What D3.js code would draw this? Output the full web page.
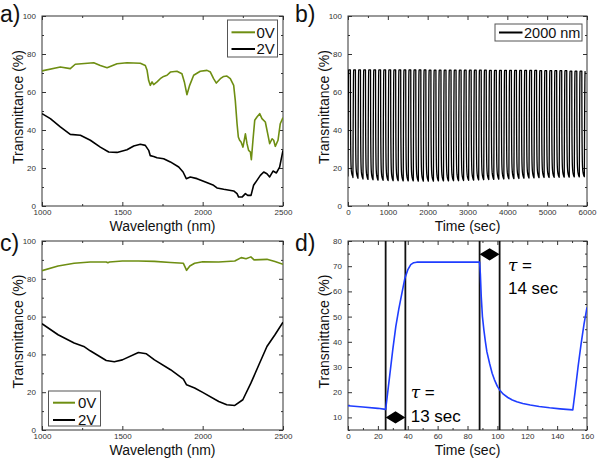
<!DOCTYPE html>
<html><head><meta charset="utf-8">
<script src="https://cdnjs.cloudflare.com/ajax/libs/d3/7.8.5/d3.min.js"></script>
<style>body{margin:0;background:#fff}svg{display:block}</style>
</head><body><svg id="c" width="599" height="462"></svg>
<script>
// ---- Data ----
// Panel a (0V / 2V spectra, wavelength nm vs transmittance %)
const aGreenX = [1000,1114,1176,1207,1322,1363,1405,1467,1529,1612,1643,1654,1664,1674,1685,1695,1716,1736,1757,1778,1799,1840,1871,1886,1902,1919,1944,1985,2027,2048,2068,2085,2110,2131,2151,2172,2193,2203,2214,2222,2230,2239,2251,2266,2276,2286,2297,2303,2313,2324,2338,2355,2369,2390,2405,2417,2432,2442,2452,2469,2483,2500];
const aGreenY = [71.1,73.2,72.3,74.6,75.4,74.0,72.8,74.9,75.4,75.1,74.0,71.4,66.0,63.5,65.3,63.9,65.3,67.0,68.2,68.8,70.5,70.9,69.6,65.3,58.6,63.5,68.8,70.9,71.4,70.5,67.0,64.7,67.0,68.2,68.4,67.0,63.5,55.6,43.3,36.3,34.6,33.7,31.0,38.0,32.8,29.3,28.4,24.4,34.6,45.1,46.8,48.6,46.0,44.2,38.0,32.8,35.4,34.6,31.4,34.6,43.3,46.5];
const aBlackX = [1000,1052,1114,1176,1239,1301,1363,1415,1467,1529,1571,1612,1643,1664,1674,1695,1716,1757,1799,1851,1878,1898,1923,1965,2017,2068,2089,2131,2193,2214,2224,2245,2266,2280,2301,2317,2338,2359,2380,2400,2417,2438,2459,2479,2500];
const aBlackY = [48.6,46.0,41.6,37.7,37.2,34.6,31.0,28.4,28.2,29.6,31.6,32.5,31.9,29.3,26.5,26.1,25.4,24.9,23.2,20.5,17.9,14.4,15.3,14.4,12.6,10.9,9.5,8.8,7.9,6.5,4.7,4.7,6.5,5.6,5.6,10.9,13.5,16.1,17.9,17.0,15.3,18.4,17.4,20.5,29.3];
// Panel c
const cGreenX = [1000,1100,1200,1300,1400,1410,1420,1500,1600,1700,1800,1880,1900,1920,1950,2000,2100,2200,2240,2270,2300,2320,2400,2450,2500];
const cGreenY = [84.3,86.8,88.2,88.9,88.9,88.5,88.9,89.4,89.4,89.2,88.6,88.2,84.5,86.8,88.2,89.0,88.9,89.4,91.2,90.6,91.6,90.0,90.3,89.1,87.7];
const cBlackX = [1000,1100,1200,1260,1300,1400,1450,1500,1600,1650,1700,1800,1880,1900,1950,2000,2100,2150,2200,2250,2300,2350,2400,2450,2500];
const cBlackY = [56.2,50.4,46.0,44.2,41.9,36.8,36.1,37.1,41.0,40.3,37.1,31.9,26.9,23.9,22.2,19.9,15.1,13.4,13.0,16.0,24.8,34.5,44.2,50.4,57.0];
// Panel d (single switching cycle, 2000 nm)
const dTime  = [0,10,20,25.2,26,27,28,30,32,34,36,38,40,42,44,46,50,60,70,80,88.1,88.6,89.2,90,91,92,93,94.8,96.5,98,100,101.5,104,107,110,113,117,122,128,135,142,150.5,152,154,156,158,160];
const dValue = [14.6,14.1,13.6,13.2,17,22,27,37,46,53,59,65,68.5,70.6,71.4,71.6,71.6,71.6,71.6,71.6,71.6,67,58,50,44.5,40,36,31.4,27.5,25,22.3,20.9,19.2,17.9,16.9,16.2,15.5,14.9,14.3,13.8,13.4,13.0,20,30,39,47,53.7];
const dMarkers = [25.2,38.4,88.1,101.5];
// Panel b (cycling at 2000 nm): per-cycle bleached max and colored min
const bMax = [71.6,71.6,71.6,71.6,71.6,71.6,71.6,71.6,71.6,71.6,71.6,71.6,71.6,71.6,71.6,71.6,71.5,71.5,71.5,71.5,71.5,71.5,71.5,71.5,71.5,71.5,71.5,71.5,71.4,71.4,71.4,71.4,71.4,71.4,71.4,71.4,71.4,71.4,71.2,71.2,71.2,71.2,71.2,71.2,71.0,71.0,71.0,71.0];
const bMin = [15.4,14.8,14.4,14.0,13.8,13.6,13.5,13.4,13.3,13.3,13.2,13.2,13.2,13.1,13.1,13.1,13.1,13.2,13.2,13.2,13.3,13.3,13.4,13.5,13.6,13.7,13.8,13.9,14.0,14.1,14.2,14.3,14.4,14.5,14.6,14.7,14.8,14.9,15.0,15.0,15.1,15.1,15.2,15.2,15.3,15.3,15.4,15.4];
const bPeriod = 126.3, bFirstRise = -2.6, bEnd = 5958;

const svg = d3.select("#c");
const FONT = "'Liberation Sans', Arial, sans-serif";
const GREEN = "#6e8e12", BLUE = "#1f3dff";

function panel(rect, xd, yd, xMajor, xMinor, yMajor, yMinor, xTitle, label, labelX, labelY) {
  const g = svg.append("g");
  const x = d3.scaleLinear().domain(xd).range([rect.l, rect.r]);
  const y = d3.scaleLinear().domain(yd).range([rect.b, rect.t]);
  const id = "clip" + label[0];
  svg.append("clipPath").attr("id", id).append("rect")
    .attr("x", rect.l).attr("y", rect.t).attr("width", rect.r - rect.l).attr("height", rect.b - rect.t);
  const styleAx = sel => { sel.select(".domain").remove(); sel.selectAll("line").attr("stroke", "#333");
    sel.selectAll("text").attr("font-family", FONT).attr("font-size", 8).attr("fill", "#333"); };
  // major / minor ticks on all sides
  g.append("g").attr("transform", `translate(0,${rect.b})`).call(d3.axisBottom(x).tickValues(xMajor).tickSize(-4).tickPadding(3).tickFormat(d3.format("d"))).call(styleAx);
  g.append("g").attr("transform", `translate(0,${rect.b})`).call(d3.axisBottom(x).tickValues(xMinor).tickSize(-2).tickFormat("")).call(styleAx);
  g.append("g").attr("transform", `translate(0,${rect.t})`).call(d3.axisTop(x).tickValues(xMajor).tickSize(-4).tickFormat("")).call(styleAx);
  g.append("g").attr("transform", `translate(0,${rect.t})`).call(d3.axisTop(x).tickValues(xMinor).tickSize(-2).tickFormat("")).call(styleAx);
  g.append("g").attr("transform", `translate(${rect.l},0)`).call(d3.axisLeft(y).tickValues(yMajor).tickSize(-4).tickPadding(6).tickFormat(d3.format("d"))).call(styleAx);
  g.append("g").attr("transform", `translate(${rect.l},0)`).call(d3.axisLeft(y).tickValues(yMinor).tickSize(-2).tickFormat("")).call(styleAx);
  g.append("g").attr("transform", `translate(${rect.r},0)`).call(d3.axisRight(y).tickValues(yMajor).tickSize(-4).tickFormat("")).call(styleAx);
  g.append("g").attr("transform", `translate(${rect.r},0)`).call(d3.axisRight(y).tickValues(yMinor).tickSize(-2).tickFormat("")).call(styleAx);
  g.append("rect").attr("x", rect.l).attr("y", rect.t).attr("width", rect.r - rect.l).attr("height", rect.b - rect.t)
    .attr("fill", "none").attr("stroke", "#333").attr("stroke-width", 1);
  g.append("text").attr("x", (rect.l + rect.r) / 2).attr("y", rect.b + 24.5).attr("text-anchor", "middle")
    .attr("font-family", FONT).attr("font-size", 14).attr("fill", "#111").text(xTitle);
  g.append("text").attr("transform", `translate(${rect.l - 19},${(rect.t + rect.b) / 2 - 4}) rotate(-90)`)
    .attr("text-anchor", "middle").attr("font-family", FONT).attr("font-size", 14).attr("fill", "#111").text("Transmittance (%)");
  svg.append("text").attr("x", labelX).attr("y", labelY).attr("font-family", FONT)
    .attr("font-size", 23).attr("fill", "#111").text(label);
  return { g, x, y, clip: `url(#${id})` };
}
const rng = (a, b, s) => d3.range(a, b + s / 2, s);

function drawLine(p, xs, ys, color, w) {
  const line = d3.line().x((d, i) => p.x(xs[i])).y((d, i) => p.y(ys[i]));
  p.g.append("path").attr("d", line(xs)).attr("fill", "none").attr("stroke", color)
    .attr("stroke-width", w).attr("stroke-linejoin", "round").attr("clip-path", p.clip);
}
function legend(p, bx, by, bw, bh, items, fs) {
  p.g.append("rect").attr("x", bx).attr("y", by).attr("width", bw).attr("height", bh)
    .attr("fill", "#fff").attr("stroke", "#555").attr("stroke-width", 1);
  items.forEach(it => {
    p.g.append("line").attr("x1", it.x1).attr("x2", it.x2).attr("y1", it.y).attr("y2", it.y)
      .attr("stroke", it.color).attr("stroke-width", 2);
    p.g.append("text").attr("x", it.tx).attr("y", it.y).attr("dy", "0.36em").attr("font-family", FONT)
      .attr("font-size", fs).attr("fill", "#111").text(it.label);
  });
}

// ---- Panel a ----
const pa = panel({l: 42, r: 283, t: 16, b: 206}, [1000, 2500], [0, 100], rng(1000, 2500, 500), rng(1250, 2250, 500),
  rng(0, 100, 20), rng(10, 90, 20), "Wavelength (nm)", "a)", 0, 22);
drawLine(pa, aBlackX, aBlackY, "#000", 1.6);
drawLine(pa, aGreenX, aGreenY, GREEN, 1.6);
legend(pa, 227.5, 20, 50, 37, [
  {x1: 231.5, x2: 255, y: 32.3, tx: 256.5, color: GREEN, label: "0V"},
  {x1: 231.5, x2: 255, y: 49, tx: 256.5, color: "#000", label: "2V"}], 15);

// ---- Panel c ----
const pc = panel({l: 42, r: 283, t: 241, b: 430}, [1000, 2500], [0, 100], rng(1000, 2500, 500), rng(1250, 2250, 500),
  rng(0, 100, 20), rng(10, 90, 20), "Wavelength (nm)", "c)", 0, 251);
drawLine(pc, cBlackX, cBlackY, "#000", 1.6);
drawLine(pc, cGreenX, cGreenY, GREEN, 1.6);
legend(pc, 48.5, 391, 52, 35, [
  {x1: 53, x2: 75, y: 402.7, tx: 78, color: GREEN, label: "0V"},
  {x1: 53, x2: 75, y: 420, tx: 78, color: "#000", label: "2V"}], 15);

// ---- Panel d ----
const pd = panel({l: 348, r: 587, t: 241, b: 430}, [0, 160], [5, 80], rng(0, 160, 20), rng(10, 150, 20),
  rng(10, 80, 10), rng(5, 75, 10), "Time (sec)", "d)", 295, 251);
dMarkers.forEach(t => pd.g.append("line").attr("x1", pd.x(t)).attr("x2", pd.x(t)).attr("y1", pd.y(80)).attr("y2", pd.y(5))
  .attr("stroke", "#111").attr("stroke-width", 1.8));
drawLine(pd, dTime, dValue, BLUE, 1.6);
function dblArrow(t0, t1, v) {
  const x0 = pd.x(t0), x1 = pd.x(t1), yy = pd.y(v), m = (x0 + x1) / 2, h = 6.2;
  pd.g.append("path").attr("d", `M${x0},${yy} L${m},${yy - h} L${m},${yy + h} Z M${x1},${yy} L${m},${yy - h} L${m},${yy + h} Z`)
    .attr("fill", "#000");
}
dblArrow(dMarkers[0], dMarkers[1], 10);
dblArrow(dMarkers[2], dMarkers[3], 74.7);
function tau(t, v1, v2, txt) {
  const tt = pd.g.append("text").attr("x", pd.x(t)).attr("y", pd.y(v1)).attr("font-size", 17).attr("fill", "#000");
  tt.append("tspan").attr("font-family", "'DejaVu Serif', 'Liberation Serif', serif").attr("font-style", "italic").text("τ");
  tt.append("tspan").attr("font-family", FONT).text(" =");
  pd.g.append("text").attr("x", pd.x(t)).attr("y", pd.y(v2)).attr("font-family", FONT).attr("font-size", 17).attr("fill", "#000").text(txt);
}
tau(42, 17.8, 8.3, "13 sec");
tau(107.1, 68.2, 59, "14 sec");

// ---- Panel b ----
const pb = panel({l: 348, r: 587, t: 16, b: 206}, [0, 6000], [0, 100], rng(0, 6000, 1000), rng(500, 5500, 1000),
  rng(0, 100, 20), rng(10, 90, 20), "Time (sec)", "b)", 295, 22);
// one cycle shape, taken from panel d (from the rise start to the next rise)
const i0 = dTime.indexOf(25.2), i1 = dTime.indexOf(150.5);
const lo = 13.0, hi = 71.6;
const bT = [], bV = [];
bMax.forEach((mx, k) => {
  const start = bFirstRise + bPeriod * k;
  for (let i = i0; i <= i1; i++) {
    const t = start + dTime[i] - dTime[i0];
    if (t > bEnd) break;
    bT.push(t);
    bV.push(bMin[k] + (dValue[i] - lo) / (hi - lo) * (mx - bMin[k]));
  }
});
drawLine(pb, bT, bV, "#000", 1.3);
legend(pb, 495, 24, 87, 17, [{x1: 499, x2: 522.5, y: 32.5, tx: 524, color: "#000", label: "2000 nm"}], 14.5);
</script></body></html>
